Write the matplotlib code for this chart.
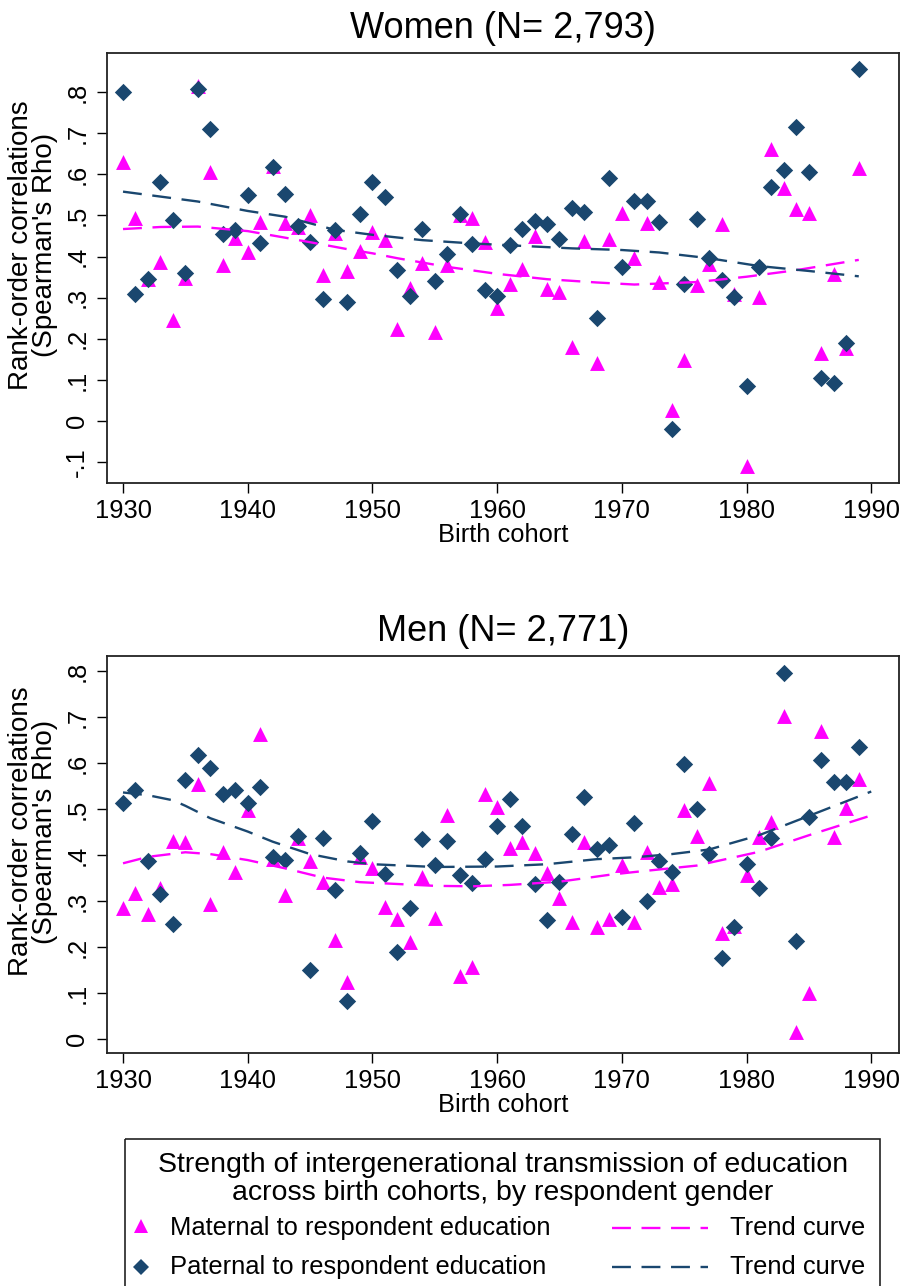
import matplotlib
matplotlib.use("Agg")
import matplotlib.pyplot as plt
from matplotlib.patches import Rectangle

plt.rcParams["font.family"] = ["Liberation Sans", "DejaVu Sans"]

MAGENTA = "#FF00FF"
NAVY = "#1A476F"

years = list(range(1930, 1990))

# Women
women_mat = [0.631, 0.493, 0.345, 0.387, 0.246, 0.347, 0.815, 0.607, 0.380, 0.446,
             0.410, 0.485, 0.620, 0.481, 0.473, 0.500, 0.355, 0.458, 0.366, 0.413,
             0.461, 0.440, 0.223, 0.324, 0.384, 0.217, 0.380, 0.500, 0.493, 0.436,
             0.274, 0.333, 0.371, 0.449, 0.322, 0.315, 0.181, 0.439, 0.140, 0.442,
             0.505, 0.396, 0.481, 0.339, 0.027, 0.148, 0.330, 0.381, 0.479, 0.310,
             -0.109, 0.301, 0.661, 0.568, 0.515, 0.505, 0.166, 0.358, 0.177, 0.615]
women_pat = [0.800, 0.310, 0.346, 0.582, 0.489, 0.359, 0.807, 0.710, 0.455, 0.464,
             0.551, 0.434, 0.619, 0.552, 0.475, 0.435, 0.298, 0.464, 0.290, 0.504,
             0.581, 0.546, 0.367, 0.304, 0.467, 0.341, 0.406, 0.504, 0.430, 0.318,
             0.303, 0.428, 0.466, 0.487, 0.479, 0.442, 0.519, 0.509, 0.251, 0.590,
             0.375, 0.535, 0.535, 0.483, -0.019, 0.333, 0.491, 0.397, 0.343, 0.301,
             0.086, 0.375, 0.569, 0.610, 0.716, 0.607, 0.104, 0.092, 0.189, 0.856]
women_mat_trend_x = [1930, 1933, 1936, 1940, 1943, 1945, 1948, 1950, 1952, 1956,
                     1960, 1964, 1968, 1971, 1976, 1980, 1984, 1989]
women_mat_trend_y = [0.467, 0.472, 0.473, 0.462, 0.446, 0.435, 0.418, 0.408, 0.396, 0.375,
                     0.358, 0.345, 0.337, 0.332, 0.338, 0.351, 0.367, 0.392]
women_pat_trend_x = [1930, 1936, 1940, 1943, 1947, 1950, 1954, 1958, 1962, 1966,
                     1970, 1973, 1977, 1981, 1985, 1989]
women_pat_trend_y = [0.558, 0.534, 0.511, 0.497, 0.465, 0.453, 0.440, 0.432, 0.426, 0.420,
                     0.416, 0.410, 0.396, 0.377, 0.365, 0.352]

# Men
men_mat = [0.284, 0.318, 0.271, 0.328, 0.430, 0.428, 0.554, 0.293, 0.407, 0.362,
           0.498, 0.662, 0.391, 0.313, 0.436, 0.386, 0.342, 0.215, 0.123, 0.395,
           0.371, 0.286, 0.260, 0.210, 0.353, 0.264, 0.488, 0.136, 0.156, 0.532,
           0.505, 0.416, 0.429, 0.404, 0.360, 0.306, 0.255, 0.428, 0.243, 0.262,
           0.378, 0.255, 0.407, 0.330, 0.336, 0.498, 0.441, 0.556, 0.230, 0.246,
           0.357, 0.440, 0.472, 0.703, 0.016, 0.101, 0.670, 0.440, 0.503, 0.565]
men_pat = [0.514, 0.541, 0.387, 0.315, 0.249, 0.562, 0.617, 0.590, 0.532, 0.541,
           0.512, 0.548, 0.395, 0.390, 0.441, 0.149, 0.437, 0.325, 0.083, 0.404,
           0.475, 0.359, 0.190, 0.284, 0.435, 0.378, 0.430, 0.357, 0.340, 0.391,
           0.462, 0.522, 0.462, 0.338, 0.259, 0.341, 0.445, 0.527, 0.413, 0.422,
           0.266, 0.469, 0.301, 0.386, 0.363, 0.597, 0.499, 0.402, 0.177, 0.244,
           0.381, 0.328, 0.436, 0.796, 0.214, 0.483, 0.606, 0.559, 0.559, 0.635]
men_mat_trend_x = [1930, 1932, 1935, 1937, 1940, 1943, 1946, 1949, 1952, 1955,
                   1958, 1961, 1965, 1969, 1971, 1976, 1981, 1985, 1990]
men_mat_trend_y = [0.382, 0.396, 0.406, 0.402, 0.389, 0.371, 0.351, 0.341, 0.337, 0.333,
                   0.332, 0.335, 0.342, 0.357, 0.363, 0.377, 0.407, 0.443, 0.486]
men_pat_trend_x = [1930, 1932, 1934, 1935, 1937, 1940, 1942, 1945, 1948, 1950,
                   1955, 1960, 1964, 1968, 1971, 1974, 1977, 1981, 1985, 1990]
men_pat_trend_y = [0.536, 0.530, 0.519, 0.507, 0.480, 0.451, 0.429, 0.402, 0.386, 0.380,
                   0.374, 0.375, 0.380, 0.391, 0.395, 0.402, 0.412, 0.443, 0.485, 0.538]

x_ticks = [1930, 1940, 1950, 1960, 1970, 1980, 1990]
women_yticks = [-0.1, 0, 0.1, 0.2, 0.3, 0.4, 0.5, 0.6, 0.7, 0.8]
women_ylabels = ["-.1", "0", ".1", ".2", ".3", ".4", ".5", ".6", ".7", ".8"]
men_yticks = women_yticks[1:]
men_ylabels = women_ylabels[1:]

W, H = 902, 1286
FS = 18.4
DASH = (0, (8, 4.5))


def px_rect(x0, y0, x1, y1):
    return [x0 / W, 1 - y1 / H, (x1 - x0) / W, (y1 - y0) / H]


def panel(rect, title, title_y, mat, pat, mtx, mty, ptx, pty, yticks, ylabels, ylim):
    ax = fig.add_axes(px_rect(*rect))
    ax.scatter(years, mat, marker="^", s=115, color=MAGENTA, linewidths=0, zorder=2)
    ax.scatter(years, pat, marker="D", s=78, color=NAVY, linewidths=0, zorder=3)
    ax.plot(mtx, mty, color=MAGENTA, lw=1.7, linestyle=DASH, zorder=4)
    ax.plot(ptx, pty, color=NAVY, lw=1.7, linestyle=DASH, zorder=4)
    ax.set_xlim(1928.74, 1992.25)
    ax.set_ylim(*ylim)
    ax.set_xticks(x_ticks)
    ax.set_xticklabels([str(t) for t in x_ticks], fontsize=FS)
    ax.set_yticks(yticks)
    ax.set_yticklabels(ylabels, fontsize=FS, rotation=90, va="center")
    ax.tick_params(direction="out", length=7, width=1, color="black", pad=6)
    ax.tick_params(axis="x", pad=4)
    for s in ax.spines.values():
        s.set_linewidth(1.3)
        s.set_color("#222222")
    ax.set_xlabel("Birth cohort", fontsize=FS, labelpad=0)
    fig.text(0.5575, 1 - title_y / H, title, fontsize=26, ha="center", va="center")
    cy = (rect[1] + rect[3]) / 2 - 23
    fig.text(33 / W, 1 - cy / H, "Rank-order correlations\n(Spearman's Rho)",
             rotation=90, ha="center", va="center", multialignment="center",
             fontsize=20, linespacing=0.92)
    return ax


fig = plt.figure(figsize=(W / 100, H / 100), dpi=100)
fig.patch.set_facecolor("white")

panel((107.3, 53.3, 899.3, 483.3), "Women (N= 2,793)", 28,
      women_mat, women_pat, women_mat_trend_x, women_mat_trend_y,
      women_pat_trend_x, women_pat_trend_y, women_yticks, women_ylabels,
      (-0.1516, 0.8946))
panel((107.3, 656, 899.3, 1053.3), "Men (N= 2,771)", 632,
      men_mat, men_pat, men_mat_trend_x, men_mat_trend_y,
      men_pat_trend_x, men_pat_trend_y, men_yticks, men_ylabels,
      (-0.031, 0.8326))

# legend drawn in pixel space
lg = fig.add_axes([0, 0, 1, 1])
lg.set_xlim(0, W)
lg.set_ylim(H, 0)
lg.axis("off")
lg.add_patch(Rectangle((125, 1139), 755, 200, fill=False, lw=1.2, edgecolor="#222222"))
lg.text(503, 1165, "Strength of intergenerational transmission of education",
        fontsize=20.5, ha="center", va="center")
lg.text(503, 1193, "across birth cohorts, by respondent gender",
        fontsize=20.5, ha="center", va="center")
lg.plot([141], [1226], marker="^", ms=10.5, color=MAGENTA, mew=0)
lg.plot([141], [1267], marker="D", ms=8, color=NAVY, mew=0)
lg.text(170, 1228, "Maternal to respondent education", fontsize=FS, va="center")
lg.text(170, 1267, "Paternal to respondent education", fontsize=FS, va="center")
lg.plot([612, 708], [1228, 1228], color=MAGENTA, lw=1.7, linestyle=DASH)
lg.plot([612, 708], [1267, 1267], color=NAVY, lw=1.7, linestyle=DASH)
lg.text(730, 1228, "Trend curve", fontsize=FS, va="center")
lg.text(730, 1267, "Trend curve", fontsize=FS, va="center")

fig.savefig("out.png", dpi=100)
